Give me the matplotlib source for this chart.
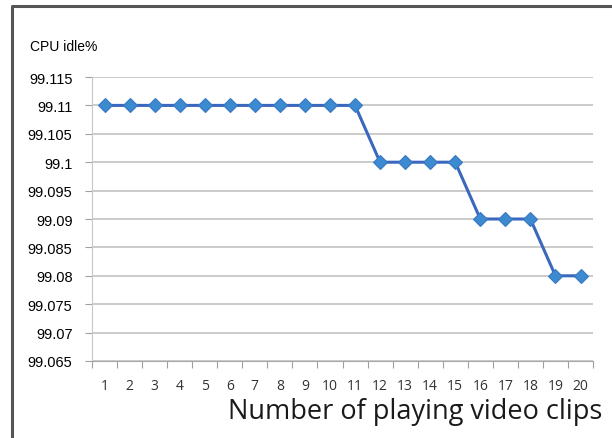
import matplotlib.pyplot as plt
from matplotlib.lines import Line2D

# number of concurrently playing clips vs. CPU idle percentage
clips = list(range(1, 21))
idle = [99.11] * 11 + [99.10] * 4 + [99.09] * 3 + [99.08] * 2
yticks = [99.065, 99.07, 99.075, 99.08, 99.085, 99.09, 99.095, 99.1, 99.105, 99.11, 99.115]
ylabels = ['99.065', '99.07', '99.075', '99.08', '99.085', '99.09', '99.095', '99.1', '99.105', '99.11', '99.115']

fig = plt.figure(figsize=(6.12, 4.39), dpi=100)
ax = fig.add_axes([0.1503, 0.1754, 0.8187, 0.6469])

ax.plot(clips, idle, color='#3A68BE', lw=2.2, marker='D', markersize=7.5,
        markerfacecolor='#3C8AD0', markeredgecolor='#3A78C4', markeredgewidth=0.8, zorder=3)

ax.set_xlim(0.5, 20.5)
ax.set_ylim(99.065, 99.115)
ax.set_yticks(yticks)
ax.set_yticklabels(ylabels, fontsize=10.5, family='Liberation Sans')
ax.yaxis.grid(True, color='#BDBDBD', lw=1.1)
ax.set_axisbelow(True)

# category axis: ticks on boundaries, labels centred
ax.set_xticks([c - 0.5 for c in clips] + [20.5])
ax.set_xticklabels([])
ax.set_xticks(clips, minor=True)
ax.set_xticklabels([str(c) for c in clips], minor=True, fontsize=10, family='Open Sans', color='#333333')
ax.tick_params(axis='x', which='minor', length=0, pad=12)
ax.tick_params(axis='x', which='major', length=5, color='#A0A0A0', direction='out')
ax.tick_params(axis='y', length=5, color='#A0A0A0', pad=9)

for s in ['top', 'right']:
    ax.spines[s].set_visible(False)
ax.spines['left'].set_color('#C8C8C8')
ax.spines['bottom'].set_color('#A8A8A8')

fig.text(0.049, 0.893, 'CPU idle%', fontsize=10, family='Liberation Sans', va='center')
fig.text(0.984, 0.062, 'Number of playing video clips', fontsize=19.5, family='Open Sans',
         ha='right', va='center', color='#1A1A1A')

# outer frame, top and left only
fig.add_artist(Line2D([0.019, 0.019, 1.0], [0.0, 0.985, 0.985], transform=fig.transFigure,
                      color='#555555', lw=2.2))

fig.savefig('out.png', dpi=100)
